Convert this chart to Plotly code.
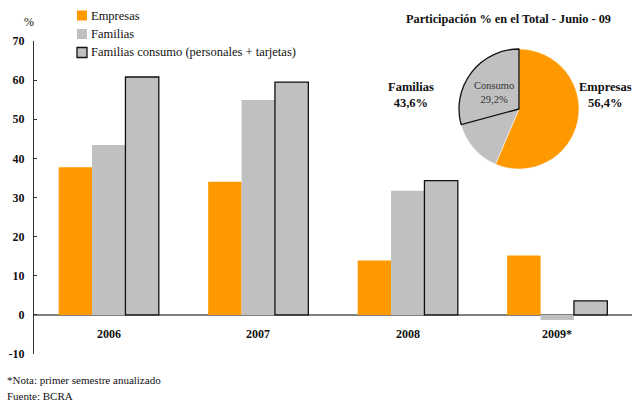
import plotly.graph_objects as go

# Annual growth (%) by segment
years = ["2006", "2007", "2008", "2009*"]
empresas = [37.7, 34.0, 13.9, 15.2]
familias = [43.4, 54.9, 31.7, -1.3]
familias_consumo = [60.8, 59.5, 34.3, 3.6]

# Share of total, June 2009
share_empresas = 56.4
share_familias = 43.6
share_consumo = 29.2

y_ticks = [-10, 0, 10, 20, 30, 40, 50, 60, 70]

ORANGE = "#FF9900"
GRAY = "#C0C0C0"
DARK = "#111111"
FONT = "Liberation Serif"

W, H = 632, 401
ML, MR, MT, MB = 34, 0, 41, 47
PW, PH = W - ML - MR, H - MT - MB


def px(x):
    return (x - ML) / PW


def py(y):
    return (H - MB - y) / PH


series = [
    ("Empresas", empresas, dict(color=ORANGE, line=dict(width=0))),
    ("Familias", familias, dict(color=GRAY, line=dict(width=0))),
    ("Familias consumo (personales + tarjetas)", familias_consumo,
     dict(color=GRAY, line=dict(width=1.3, color=DARK))),
]

fig = go.Figure()
for name, vals, marker in series:
    fig.add_trace(go.Bar(name=name, x=years, y=vals, marker=marker,
                         showlegend=False))

share_resto = round(share_familias - share_consumo, 1)
fig.add_trace(go.Pie(
    values=[share_empresas, share_resto, share_consumo],
    labels=["Empresas", "Familias", "Consumo"],
    marker=dict(colors=[ORANGE, GRAY, GRAY],
                line=dict(color=["white", "white", DARK], width=[0.5, 0.5, 1.3])),
    sort=False, direction="clockwise", rotation=0,
    textinfo="none", hoverinfo="label+percent", showlegend=False,
    domain=dict(x=[px(459), px(579)], y=[py(169), py(49)]),
))


def fmt(v):
    return f"{v:.1f}".replace(".", ",") + "%"


def note(x, y, text, size=12, xanchor="center", color=DARK):
    fig.add_annotation(x=px(x), y=py(y), xref="paper", yref="paper", text=text,
                       showarrow=False, xanchor=xanchor, yanchor="middle",
                       font=dict(size=size, color=color))


# Legend drawn as swatches + labels
for i, (name, _, marker) in enumerate(series):
    cy = 15.5 + i * 18.5
    lw = marker["line"].get("width", 0)
    fig.add_shape(type="rect", xref="paper", yref="paper",
                  x0=px(77), x1=px(87), y0=py(cy + 5), y1=py(cy - 5),
                  fillcolor=marker["color"],
                  line=dict(width=lw if lw else 0, color=DARK))
    note(88.5, cy, name, size=12.5, xanchor="left")

# Category labels placed just under the zero line (category index positions)
for i, yr in enumerate(years):
    fig.add_annotation(x=i, y=-5, xref="x", yref="y", text=f"<b>{yr}</b>",
                       showarrow=False, yanchor="middle", xanchor="center",
                       font=dict(size=12, color=DARK))

note(29, 22, "%", size=12)
note(508, 19, "<b>Participación % en el Total - Junio - 09</b>", size=12.3)
note(411, 95, f"<b>Familias<br>{fmt(share_familias)}</b>", size=12.5)
note(605, 95, f"<b>Empresas<br>{fmt(share_empresas)}</b>", size=12.5)
note(494, 92, f"Consumo<br>{fmt(share_consumo)}", size=10.5, color="#333333")

note(5, 380, "*Nota: primer semestre anualizado", size=11, xanchor="left")
note(5, 396, "Fuente: BCRA", size=11, xanchor="left")

fig.update_layout(
    width=W, height=H,
    margin=dict(l=ML, r=MR, t=MT, b=MB),
    plot_bgcolor="white", paper_bgcolor="white",
    font=dict(family=FONT, size=12, color=DARK),
    barmode="group", bargap=0.33, bargroupgap=0,
    showlegend=False,
)
fig.update_xaxes(type="category", range=[-0.5, len(years) - 0.5],
                 showticklabels=False, showline=False, ticks="",
                 showgrid=False, zeroline=False)
fig.update_yaxes(range=[-10, 70], tickvals=y_ticks,
                 ticktext=[f"<b>{v}</b>" for v in y_ticks],
                 showgrid=False, showline=True, linecolor="#333333", linewidth=1,
                 ticks="inside", ticklen=3, tickcolor="#333333",
                 zeroline=True, zerolinecolor="#808080", zerolinewidth=2,
                 ticklabelstandoff=6)

fig.write_html("out.html")
